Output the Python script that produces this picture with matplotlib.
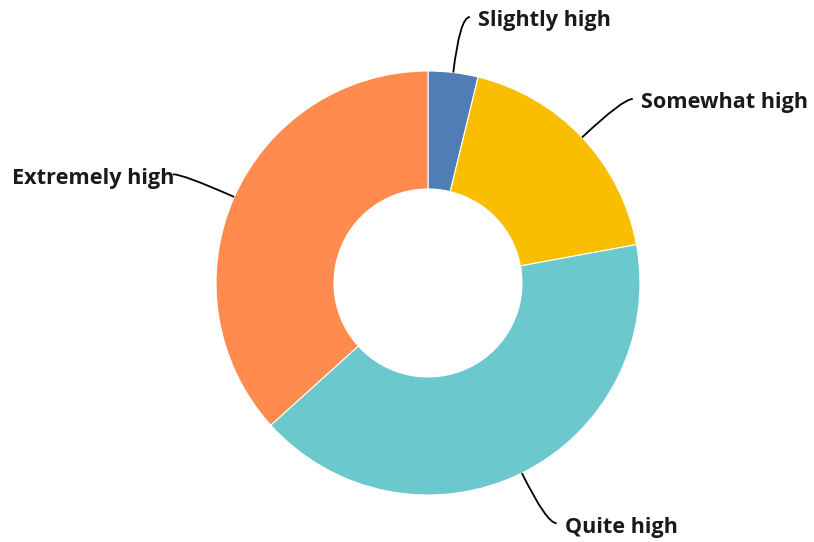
import matplotlib.pyplot as plt
from matplotlib.path import Path
from matplotlib.patches import PathPatch
import numpy as np

# Share of responses per level, clockwise from the top
labels = ['Slightly high', 'Somewhat high', 'Quite high', 'Extremely high']
values = [3.8, 18.3, 41.2, 36.7]
colors = ['#4F7DB5', '#F9BE00', '#6BC8CD', '#FF8B4F']

W, H = 814, 542
fig = plt.figure(figsize=(W / 100, H / 100), dpi=100)
ax = fig.add_axes([0, 0, 1, 1])

cx, cy = 428, H - 283
r_out, r_in = 212, 94

wedges, _ = ax.pie(values, colors=colors, startangle=90, counterclock=False,
                   radius=r_out, center=(cx, cy), frame=True,
                   wedgeprops=dict(width=r_out - r_in, edgecolor='white', linewidth=0.8))
ax.set_xlim(0, W)
ax.set_ylim(0, H)
ax.set_aspect('equal')
ax.axis('off')

# Curved leader lines from the middle of each wedge's outer edge
for w, lab in zip(wedges, labels):
    mid = np.deg2rad((w.theta1 + w.theta2) / 2)
    dx, dy = np.cos(mid), np.sin(mid)
    start = (cx + r_out * dx, cy + r_out * dy)
    ctrl = (cx + 268 * dx, cy + 268 * dy)
    side = 1 if dx >= 0 else -1
    end = (ctrl[0] + 10 * side, ctrl[1])
    path = Path([start, ctrl, end], [Path.MOVETO, Path.CURVE3, Path.CURVE3])
    ax.add_patch(PathPatch(path, fill=False, edgecolor='black', linewidth=1.3))
    gap = 8 if side > 0 else -1
    ax.text(end[0] + gap * side, end[1] - 4, lab, ha='left' if side > 0 else 'right',
            va='center', fontsize=15.6, fontweight='bold', family='Open Sans',
            color='#1a1a1a')

fig.savefig('out.png', dpi=100)
